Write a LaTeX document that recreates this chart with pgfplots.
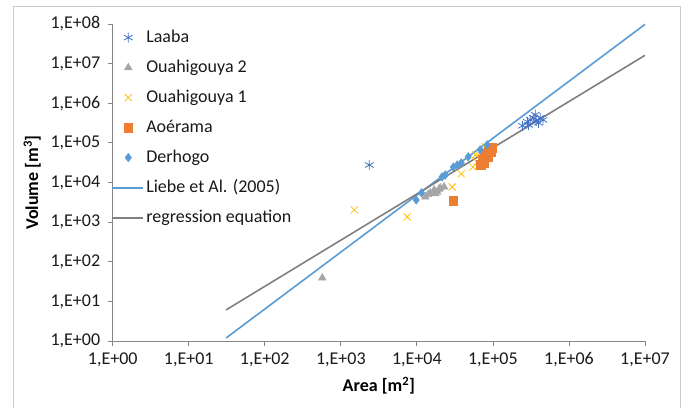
\documentclass[border=0pt]{standalone}
\usepackage{fontspec}
\setmainfont{Carlito}
\usepackage{pgfplots}
\pgfplotsset{compat=1.18}

\definecolor{laaba}{HTML}{4472C4}
\definecolor{oua2}{HTML}{A5A5A5}
\definecolor{oua1}{HTML}{FFC000}
\definecolor{aoe}{HTML}{ED7D31}
\definecolor{derh}{HTML}{5B9BD5}
\definecolor{liebe}{HTML}{5B9BD5}
\definecolor{regr}{HTML}{808080}
\definecolor{axgray}{HTML}{868686}

\pgfplotsset{
  markimg/.style={legend image code/.code={
    \path[draw=none,fill=none] (0pt,-7pt) rectangle (31pt,7pt);
    \draw[##1,only marks] plot coordinates {(16pt,0pt)};}},
  lineimg/.style={legend image code/.code={
    \path[draw=none,fill=none] (0pt,-7pt) rectangle (31pt,7pt);
    \draw[draw=#1, line width=2pt] (0pt,0pt) -- (31pt,0pt);}},
}

\begin{document}
\begin{tikzpicture}
\begin{axis}[
  scale only axis,
  width=532.3pt, height=317pt,
  xmode=log, ymode=log,
  xmin=1, xmax=1e7, ymin=1, ymax=1e8,
  xminorticks=false, yminorticks=false,
  axis x line*=bottom, axis y line*=left,
  axis line style={axgray, line width=0.8pt},
  tick style={axgray, line width=0.8pt},
  tick align=outside, major tick length=5pt,
  xtick={1,10,100,1000,10000,100000,1000000,10000000},
  xticklabels={{1,E+00},{1,E+01},{1,E+02},{1,E+03},{1,E+04},{1,E+05},{1,E+06},{1,E+07}},
  ytick={1,10,100,1000,10000,100000,1000000,10000000,100000000},
  yticklabels={{1,E+00},{1,E+01},{1,E+02},{1,E+03},{1,E+04},{1,E+05},{1,E+06},{1,E+07},{1,E+08}},
  tick label style={font=\fontsize{18}{21}\selectfont, text=black!90},
  xticklabel style={yshift=-3pt},
  yticklabel style={xshift=-4pt},
  xlabel={\textbf{Area [m\textsuperscript{2}]}},
  ylabel={\textbf{Volume [m\textsuperscript{3}]}},
  label style={font=\fontsize{18}{21}\selectfont},
  xlabel style={yshift=-3pt},
  ylabel style={yshift=3pt},
  legend style={at={(rel axis cs:-0.003,1.005)}, anchor=north west,
    draw=none, fill=none, inner sep=0pt,
    font=\fontsize{18}{21}\selectfont, row sep=0pt,
    nodes={text height=13pt, text depth=4pt, inner ysep=6.5pt},
    cells={anchor=west}, text=black!90},
  clip=false,
]
\coordinate (SW) at (rel axis cs:0,0);
\coordinate (NE) at (rel axis cs:1,1);

% Laaba
\addplot[only marks, mark=asterisk, mark size=5pt, laaba, line width=0.8pt, markimg]
coordinates {
  (2370,27700)
  (245000,270000) (285000,340000) (310000,380000) (340000,427000)
  (370000,360000) (420000,427000) (455000,380000) (294000,283000)
  (360000,513000) (398000,320000)
};
\addlegendentry{Laaba}

% Ouahigouya 2
\addplot[only marks, mark=triangle*, mark size=4.5pt, oua2, markimg]
coordinates {
  (570,39)
  (12900,4340) (15000,5470) (16900,6470) (18500,5780) (20300,7300)
  (22800,7750) (14000,5000) (17500,5200) (19500,6800)
};
\addlegendentry{Ouahigouya 2}

% Ouahigouya 1
\addplot[only marks, mark=x, mark size=5pt, oua1, line width=0.8pt, markimg]
coordinates {
  (1500,2040) (7450,1350) (29200,7700) (38300,16500) (54500,24600)
  (62000,33000) (68000,56000) (79000,79000) (59000,50000) (66000,28000)
};
\addlegendentry{Ouahigouya 1}

% Aoerama
\addplot[only marks, mark=square*, mark size=4.3pt, aoe, markimg]
coordinates {
  (30000,3450)
  (69000,27700) (73000,37000) (77000,44500) (82000,50000) (87000,59000)
  (92000,66500) (98000,74500) (75000,32000) (85000,45000) (95000,60000)
};
\addlegendentry{Aoérama}

% Derhogo
\addplot[only marks, mark=diamond*, mark size=4.3pt, derh, markimg]
coordinates {
  (9800,3630) (11500,5490) (21500,13900) (23700,15500) (30200,24600)
  (34000,27700) (38300,31200) (47300,44500) (68000,66700) (84000,89000)
};
\addlegendentry{Derhogo}

% Liebe et al. (2005)
\addplot[liebe, line width=1.6pt, lineimg=liebe]
coordinates {(31,1.19) (1000,175) (100000,131000) (10000000,98000000)};
\addlegendentry{Liebe et Al. (2005)}

% regression equation
\addplot[regr, line width=1.6pt, lineimg=regr]
coordinates {(31,6.1) (10000000,16200000)};
\addlegendentry{regression equation}
\end{axis}

\draw[gray!40, line width=0.8pt]
  ([shift={(-99.7pt,-67pt)}]SW) rectangle ([shift={(35pt,18pt)}]NE);
\pgfresetboundingbox
\path[use as bounding box]
  ([shift={(-112.7pt,-67pt)}]SW) rectangle ([shift={(45pt,24pt)}]NE);
\end{tikzpicture}
\end{document}
